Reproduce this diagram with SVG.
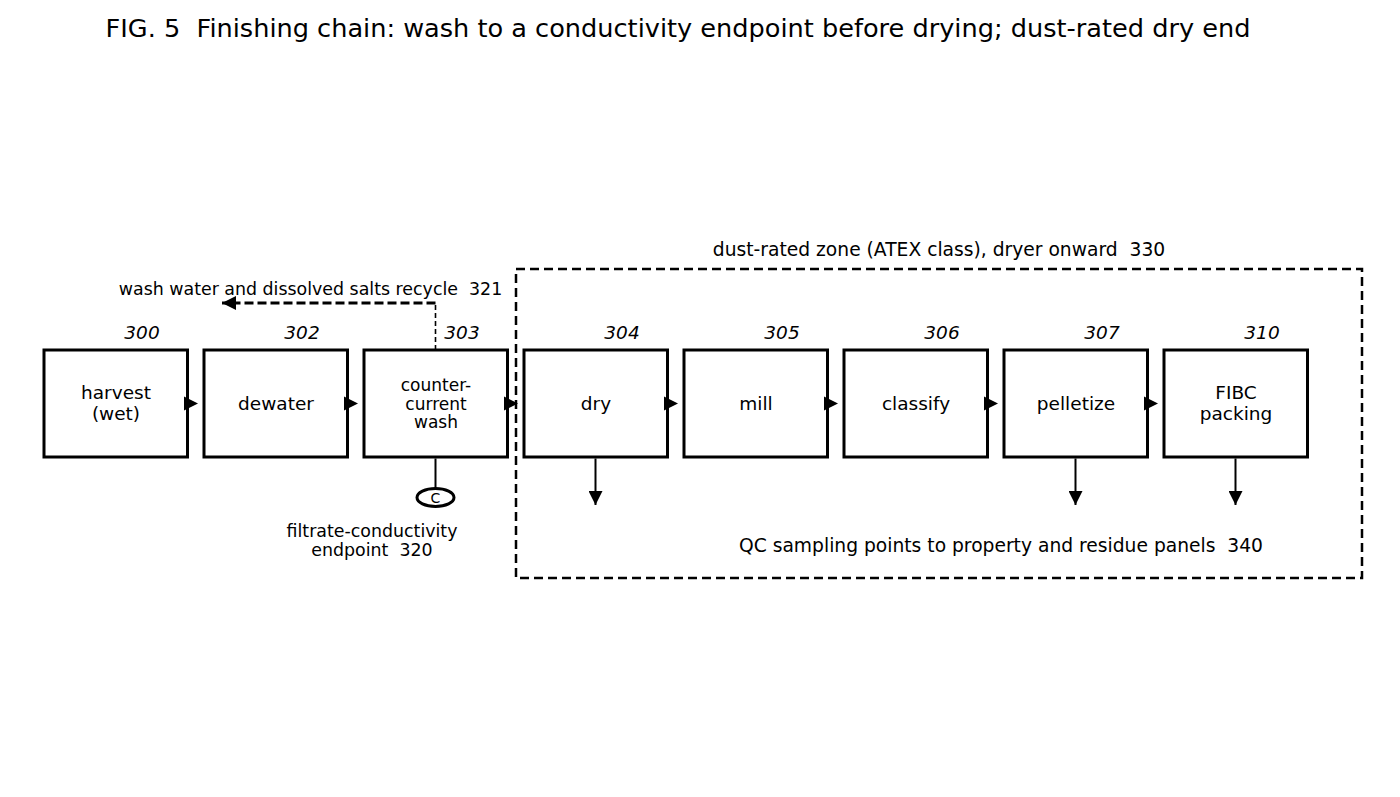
<svg xmlns="http://www.w3.org/2000/svg" width="1400" height="797" viewBox="0 0 1400 797">
<style>
text{font-family:"DejaVu Sans","Liberation Sans",sans-serif;fill:#000;white-space:pre}
.box{fill:#fff;stroke:#000;stroke-width:3}
.lbl{font-size:18.5px;text-anchor:middle}
.num{font-size:18.5px;font-style:italic;text-anchor:middle}
.small{font-size:17.4px;text-anchor:middle}
.mid{font-size:18.7px;text-anchor:middle}
.ln{stroke:#000;stroke-width:2;fill:none}
.dash{stroke:#000;stroke-width:2.5;fill:none;stroke-dasharray:9,5}
</style>
<defs>
<marker id="ah" viewBox="0 0 10 10" refX="10" refY="5" markerWidth="14" markerHeight="14" markerUnits="userSpaceOnUse" orient="auto"><path d="M0,0 L10,5 L0,10 Z" fill="#000"/></marker>
</defs>
<rect width="1400" height="797" fill="#fff"/>
<text x="678" y="37" font-size="25.6" text-anchor="middle" xml:space="preserve">FIG. 5  Finishing chain: wash to a conductivity endpoint before drying; dust-rated dry end</text>

<g id="zone330">
<rect x="516" y="269" width="846" height="309" class="dash"/>
<text x="939" y="256" class="mid" xml:space="preserve">dust-rated zone (ATEX class), dryer onward  330</text>
<text x="1001" y="552" class="mid" xml:space="preserve">QC sampling points to property and residue panels  340</text>
</g>

<g id="n300"><rect x="44" y="350" width="143.5" height="107" class="box"/><text x="116" y="399" class="lbl">harvest</text><text x="116" y="420" class="lbl">(wet)</text><text x="142" y="339" class="num">300</text></g>
<g id="n302"><rect x="204" y="350" width="143.5" height="107" class="box"/><text x="276" y="410" class="lbl">dewater</text><text x="302" y="339" class="num">302</text></g>
<g id="n303"><rect x="364" y="350" width="143.5" height="107" class="box"/><text x="436" y="391" class="lbl" style="font-size:17px">counter-</text><text x="436" y="410" class="lbl" style="font-size:17px">current</text><text x="436" y="428" class="lbl" style="font-size:17px">wash</text><text x="462" y="339" class="num">303</text></g>
<g id="n304"><rect x="524" y="350" width="143.5" height="107" class="box"/><text x="596" y="410" class="lbl">dry</text><text x="622" y="339" class="num">304</text></g>
<g id="n305"><rect x="684" y="350" width="143.5" height="107" class="box"/><text x="756" y="410" class="lbl">mill</text><text x="782" y="339" class="num">305</text></g>
<g id="n306"><rect x="844" y="350" width="143.5" height="107" class="box"/><text x="916" y="410" class="lbl">classify</text><text x="942" y="339" class="num">306</text></g>
<g id="n307"><rect x="1004" y="350" width="143.5" height="107" class="box"/><text x="1076" y="410" class="lbl">pelletize</text><text x="1102" y="339" class="num">307</text></g>
<g id="n310"><rect x="1164" y="350" width="143.5" height="107" class="box"/><text x="1236" y="399" class="lbl">FIBC</text><text x="1236" y="420" class="lbl">packing</text><text x="1262" y="339" class="num">310</text></g>

<g id="connectors">
<path d="M435.5,350 V303" stroke="#000" stroke-width="1.6" stroke-dasharray="5,3" fill="none"/>
<path d="M435.5,303 H222" stroke="#000" stroke-width="2.8" stroke-dasharray="9,4" fill="none" marker-end="url(#ah)"/>
<path d="M435.5,458.5 V488" class="ln"/>
<g fill="#000">
<polygon points="184,396.5 198,403.5 184,410.5"/>
<polygon points="344,396.5 358,403.5 344,410.5"/>
<polygon points="504,396.5 518,403.5 504,410.5"/>
<polygon points="664,396.5 678,403.5 664,410.5"/>
<polygon points="824,396.5 838,403.5 824,410.5"/>
<polygon points="984,396.5 998,403.5 984,410.5"/>
<polygon points="1144,396.5 1158,403.5 1144,410.5"/>
</g>
<path d="M595.5,458.5 V505" class="ln" marker-end="url(#ah)"/>
<path d="M1075.5,458.5 V505" class="ln" marker-end="url(#ah)"/>
<path d="M1235.5,458.5 V505" class="ln" marker-end="url(#ah)"/>
<text x="310.5" y="295" class="small" xml:space="preserve">wash water and dissolved salts recycle  321</text>
</g>

<g id="n320">
<ellipse cx="435.5" cy="497.5" rx="18.5" ry="9" fill="#fff" stroke="#000" stroke-width="3"/>
<text x="435.5" y="503" font-size="14" text-anchor="middle">C</text>
<text x="372" y="537" class="small">filtrate-conductivity</text>
<text x="372" y="556" class="small" xml:space="preserve">endpoint  320</text>
</g>
</svg>
